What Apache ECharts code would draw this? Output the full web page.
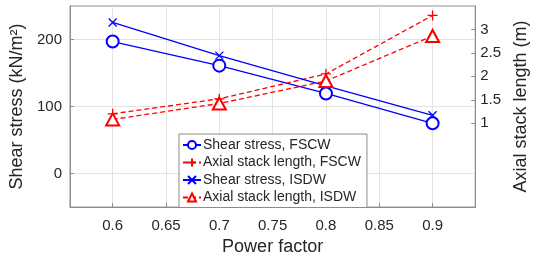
<!DOCTYPE html>
<html>
<head>
<meta charset="utf-8">
<script src="https://cdn.jsdelivr.net/npm/echarts@6/dist/echarts.min.js"></script>
<style>html,body{margin:0;padding:0;background:#fff}#c{width:538px;height:261px}</style>
</head>
<body>
<div id="c"></div>
<script>
const powerFactor = [0.6, 0.7, 0.8, 0.9];
const shearFSCW = [197, 161, 119.5, 75];
const axialFSCW = [1.2, 1.52, 2.05, 3.3];
const shearISDW = [225.5, 176, 131, 87];
const axialISDW = [1.08, 1.42, 1.9, 2.86];
const xTicks = [0.6, 0.65, 0.7, 0.75, 0.8, 0.85, 0.9];
const leftTicks = [0, 100, 200];
const rightTicks = [1, 1.5, 2, 2.5, 3];
const seriesNames = ['Shear stress, FSCW', 'Axial stack length, FSCW', 'Shear stress, ISDW', 'Axial stack length, ISDW'];

const pairs = ys => powerFactor.map((x, i) => [x, ys[i]]);
const FONT = 'Liberation Sans, Arial, Helvetica, sans-serif';
const TXT = '#262626';
const AX = '#8c8c8c';
const GRID = '#e3e3e3';
const XSYM = 'path://M0,0L10,10M10,0L0,10';
const PSYM = 'path://M5,0L5,10M0,5L10,5';

const chart = echarts.init(document.getElementById('c'), null, {renderer: 'canvas'});
chart.setOption({
  animation: false,
  backgroundColor: '#fff',
  textStyle: {fontFamily: FONT},
  grid: {left: 70, right: 57, top: 6, bottom: 49, show: true, borderColor: AX, borderWidth: 1, backgroundColor: 'transparent'},
  legend: {
    orient: 'vertical', left: 179, top: 134, z: 10,
    backgroundColor: '#fff', borderColor: AX, borderWidth: 1,
    padding: [4, 6, 3, 3], itemGap: 3.5, itemWidth: 18, itemHeight: 10,
    textStyle: {fontSize: 14, color: TXT, fontFamily: FONT, padding: [0, 0, 0, -3]},
    data: seriesNames
  },
  xAxis: {
    type: 'value', min: 0.56, max: 0.94,
    name: 'Power factor', nameLocation: 'middle', nameGap: 29,
    nameTextStyle: {fontSize: 18, color: TXT, fontFamily: FONT},
    axisLine: {show: true, onZero: false, lineStyle: {color: AX}},
    axisTick: {show: true, inside: true, length: 4, customValues: xTicks, lineStyle: {color: AX}},
    axisLabel: {customValues: xTicks, fontSize: 15, color: TXT, fontFamily: FONT, margin: 11, formatter: v => String(+v.toFixed(2))},
    splitLine: {show: false}
  },
  yAxis: [{
    type: 'value', min: -50, max: 250, position: 'left',
    name: 'Shear stress (kN/m²)', nameLocation: 'middle', nameGap: 34, nameRotate: 90,
    nameTextStyle: {fontSize: 18, color: TXT, fontFamily: FONT},
    axisLine: {show: true, lineStyle: {color: AX}},
    axisTick: {show: true, inside: true, length: 4, customValues: leftTicks, lineStyle: {color: AX}},
    axisLabel: {customValues: leftTicks, fontSize: 15, color: TXT, fontFamily: FONT, margin: 8},
    splitLine: {show: false}
  }, {
    type: 'value', min: -0.79, max: 3.5, position: 'right',
    name: 'Axial stack length (m)', nameLocation: 'middle', nameGap: 35, nameRotate: 90,
    nameTextStyle: {fontSize: 18, color: TXT, fontFamily: FONT},
    axisLine: {show: true, lineStyle: {color: AX}},
    axisTick: {show: true, inside: true, length: 4, customValues: rightTicks, lineStyle: {color: AX}},
    axisLabel: {customValues: rightTicks, fontSize: 15, color: TXT, fontFamily: FONT, margin: 5},
    splitLine: {show: false}
  }],
  series: [{
    name: seriesNames[0], type: 'line', yAxisIndex: 0, data: pairs(shearFSCW),
    symbol: 'emptyCircle', symbolSize: 12,
    lineStyle: {color: '#0000ff', width: 1.3},
    itemStyle: {color: '#0000ff', borderColor: '#0000ff', borderWidth: 1.3},
    markLine: {
      silent: true, symbol: 'none', label: {show: false}, z: 0,
      lineStyle: {color: GRID, width: 1, type: 'solid'},
      data: xTicks.map(v => ({xAxis: v})).concat(leftTicks.map(v => ({yAxis: v})))
    }
  }, {
    name: seriesNames[1], type: 'line', yAxisIndex: 1, data: pairs(axialFSCW),
    symbol: PSYM, symbolSize: 10,
    lineStyle: {color: '#ff0000', width: 1.3, type: [5, 3]},
    itemStyle: {color: '#ff0000', borderColor: '#ff0000', borderWidth: 1.3}
  }, {
    name: seriesNames[2], type: 'line', yAxisIndex: 0, data: pairs(shearISDW),
    symbol: XSYM, symbolSize: 8,
    lineStyle: {color: '#0000ff', width: 1.3},
    itemStyle: {color: '#0000ff', borderColor: '#0000ff', borderWidth: 1.3}
  }, {
    name: seriesNames[3], type: 'line', yAxisIndex: 1, data: pairs(axialISDW),
    symbol: 'emptyTriangle', symbolSize: [13, 12],
    lineStyle: {color: '#ff0000', width: 1.3, type: [5, 3]},
    itemStyle: {color: '#ff0000', borderColor: '#ff0000', borderWidth: 1.3}
  }]
});
</script>
</body>
</html>
